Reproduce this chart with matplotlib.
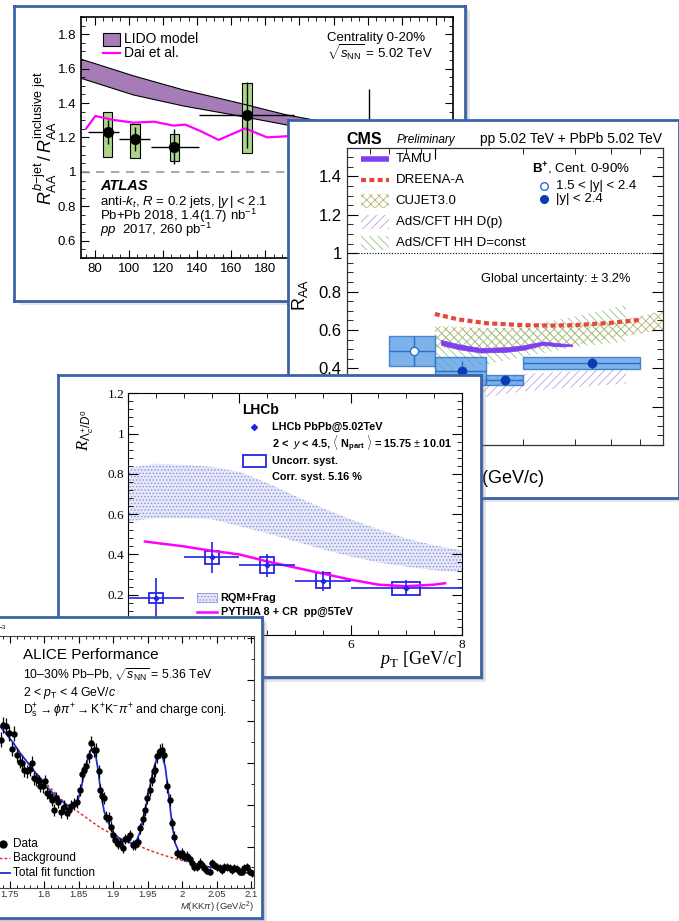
import numpy as np
import matplotlib
matplotlib.use("Agg")
import matplotlib.pyplot as plt
from matplotlib.patches import Rectangle
from matplotlib.ticker import MultipleLocator, FuncFormatter, NullFormatter

plt.rcParams['font.family'] = ['Liberation Sans', 'DejaVu Sans']
plt.rcParams['mathtext.fontset'] = 'custom'
plt.rcParams['mathtext.rm'] = 'Liberation Sans'
plt.rcParams['mathtext.it'] = 'Liberation Sans:italic'
plt.rcParams['mathtext.bf'] = 'Liberation Sans:bold'
plt.rcParams['mathtext.sf'] = 'Liberation Serif'
plt.rcParams['mathtext.cal'] = 'Liberation Serif:italic'
plt.rcParams['hatch.linewidth'] = 0.6

# ---------------- ATLAS: b-jet / inclusive jet RAA ----------------
atlas_pt = [87.6, 103.7, 126.7, 169.3, 241.0]
atlas_r = [1.234, 1.193, 1.147, 1.331, 1.16]
atlas_xlo = [76.0, 94.5, 113.0, 141.0, 197.0]
atlas_xhi = [94.5, 112.7, 141.0, 197.0, 290.0]
atlas_stat = [0.07, 0.07, 0.10, 0.19, 0.32]
atlas_sys_lo = [1.085, 1.079, 1.065, 1.11, 1.02]
atlas_sys_hi = [1.35, 1.28, 1.22, 1.515, 1.29]
lido_x = [72, 102.8, 132.1, 161.4, 192.6, 220, 250, 290]
lido_hi = [1.655, 1.558, 1.476, 1.408, 1.331, 1.28, 1.23, 1.18]
lido_lo = [1.544, 1.447, 1.383, 1.331, 1.273, 1.23, 1.18, 1.13]
dai_x = [75.1, 80.4, 91.1, 102.8, 114.6, 126.3, 133.1, 141.9, 152.6, 168.3, 181.0, 188.8, 210, 240, 270, 290]
dai_y = [1.253, 1.325, 1.302, 1.286, 1.292, 1.269, 1.275, 1.238, 1.186, 1.253, 1.201, 1.205, 1.22, 1.20, 1.19, 1.19]

# ---------------- CMS: B+ RAA ----------------
cms_open_pt = [8.5]
cms_open_r = [0.492]
cms_open_xlo = [7.0]
cms_open_xhi = [10.0]
cms_open_stat = [0.078]
cms_open_sys = [0.078]
cms_pt = [12.4, 17.3, 34.5]
cms_r = [0.386, 0.339, 0.426]
cms_xlo = [10.0, 15.0, 20.0]
cms_xhi = [15.0, 20.0, 50.0]
cms_stat = [0.05, 0.027, 0.031]
cms_sys = [0.073, 0.027, 0.031]
tamu_x = [10.5, 12, 14.3, 17.6, 20, 23.4, 26.7, 29.4]
tamu_hi = [0.548, 0.526, 0.506, 0.510, 0.520, 0.540, 0.530, 0.524]
tamu_lo = [0.522, 0.500, 0.482, 0.486, 0.496, 0.522, 0.514, 0.516]
dreena_x = [10, 12, 15, 20, 25, 30, 40, 50]
dreena_y = [0.683, 0.655, 0.635, 0.625, 0.623, 0.625, 0.637, 0.652]
cujet_x = [10, 15, 20, 30, 40, 50, 60]
cujet_hi = [0.62, 0.61, 0.61, 0.62, 0.645, 0.67, 0.70]
cujet_lo = [0.51, 0.49, 0.49, 0.52, 0.555, 0.58, 0.60]
adsc_x = [10, 15, 20, 30, 45]
adsc_hi = [0.60, 0.60, 0.62, 0.67, 0.73]
adsc_lo = [0.37, 0.42, 0.46, 0.51, 0.54]
adsp_x = [10, 15, 20, 30, 45]
adsp_hi = [0.33, 0.355, 0.37, 0.385, 0.395]
adsp_lo = [0.22, 0.25, 0.28, 0.30, 0.32]

# ---------------- LHCb: Lc/D0 ratio ----------------
lhcb_pt = [2.5, 3.5, 4.5, 5.5, 7.0]
lhcb_r = [0.185, 0.385, 0.346, 0.27, 0.232]
lhcb_xlo = [2, 3, 4, 5, 6]
lhcb_xhi = [3, 4, 5, 6, 8]
lhcb_stat = [0.10, 0.075, 0.056, 0.05, 0.04]
lhcb_sys = [0.025, 0.032, 0.04, 0.038, 0.032]
lhcb_boxw = [0.125, 0.125, 0.125, 0.125, 0.25]
rqm_x = [2, 2.5, 3, 3.5, 4, 4.5, 5, 5.5, 6, 6.5, 7, 7.5, 8]
rqm_hi = [0.83, 0.85, 0.845, 0.835, 0.81, 0.755, 0.69, 0.63, 0.575, 0.525, 0.48, 0.445, 0.42]
rqm_lo = [0.565, 0.58, 0.58, 0.575, 0.54, 0.505, 0.465, 0.425, 0.39, 0.36, 0.34, 0.322, 0.31]
pythia_x = [2.3, 3, 3.5, 4, 4.5, 5, 5.5, 6, 6.5, 7, 7.5, 7.7]
pythia_y = [0.464, 0.44, 0.418, 0.40, 0.365, 0.335, 0.305, 0.275, 0.25, 0.242, 0.25, 0.257]

# ---------------- ALICE: Ds invariant mass ----------------
alice_m = [1.7372, 1.7410, 1.7449, 1.7497, 1.7531, 1.7565, 1.7604, 1.7642, 1.7676, 1.7710,
           1.7748, 1.7787, 1.7821, 1.7845, 1.7884, 1.7918, 1.7942, 1.7980, 1.8014, 1.8038,
           1.8077, 1.8111, 1.8135, 1.8174, 1.8207, 1.8241, 1.8280, 1.8328, 1.8352, 1.8386,
           1.8434, 1.8473, 1.8512, 1.8546, 1.8579, 1.8608, 1.8642, 1.8676, 1.8715, 1.8753,
           1.8787, 1.8811, 1.8835, 1.8869, 1.8898, 1.8932, 1.8966, 1.8995, 1.9029, 1.9063,
           1.9101, 1.9140, 1.9174, 1.9208, 1.9246, 1.9285, 1.9319, 1.9352, 1.9391, 1.9430,
           1.9463, 1.9488, 1.9526, 1.9560, 1.9584, 1.9608, 1.9633, 1.9671, 1.9705, 1.9739,
           1.9777, 1.9816, 1.9850, 1.9884, 1.9922, 1.9961, 1.9995, 2.0029, 2.0067, 2.0106,
           2.0140, 2.0174, 2.0212, 2.0251, 2.0285, 2.0319, 2.0357, 2.0396, 2.0430, 2.0464,
           2.0502, 2.0541, 2.0575, 2.0609, 2.0647, 2.0686, 2.0720, 2.0754, 2.0792, 2.0831,
           2.0865, 2.0899, 2.0937, 2.0976, 2.1009]
alice_n = [117.7, 129.6, 128.8, 123.0, 110.3, 122.5, 105.8, 100.5, 99.7, 93.9,
           92.6, 94.4, 99.2, 87.3, 86.5, 84.7, 81.2, 80.7, 84.7, 75.4,
           73.3, 70.1, 62.2, 71.4, 68.8, 60.8, 64.8, 59.5, 62.2, 65.3,
           66.9, 68.8, 78.0, 90.7, 93.9, 96.6, 104.5, 115.1, 109.8, 109.8,
           92.6, 78.0, 72.8, 71.4, 56.9, 55.6, 48.9, 42.3, 38.4, 35.2,
           36.2, 31.7, 38.9, 39.7, 42.3, 34.4, 34.4, 37.0, 47.6, 54.8,
           62.2, 71.4, 78.0, 86.0, 92.6, 93.9, 104.5, 108.5, 109.8, 105.8,
           80.7, 70.1, 51.6, 41.0, 27.8, 26.5, 28.3, 25.1, 25.7, 23.0,
           19.8, 16.7, 17.2, 20.4, 18.5, 15.9, 14.0, 13.2, 19.8, 18.5,
           17.2, 15.9, 14.6, 17.2, 16.7, 15.9, 14.6, 15.9, 15.1, 13.2,
           13.2, 15.9, 17.2, 13.2, 11.9]
alice_err = [6.0, 6.2, 6.2, 6.0, 5.8, 6.0, 5.6, 5.5, 5.5, 5.4,
             5.4, 5.4, 5.5, 5.2, 5.2, 5.2, 5.1, 5.1, 5.2, 5.0,
             5.0, 4.9, 4.8, 4.9, 4.9, 4.7, 4.8, 4.7, 4.8, 4.8,
             4.8, 4.9, 5.0, 5.3, 5.4, 5.4, 5.5, 5.7, 5.6, 5.6,
             5.3, 5.0, 4.9, 4.9, 4.5, 4.5, 4.3, 4.1, 4.0, 3.9,
             3.9, 3.8, 4.0, 4.0, 4.1, 3.9, 3.9, 4.0, 4.3, 4.5,
             4.7, 4.9, 5.0, 5.2, 5.3, 5.3, 5.5, 5.6, 5.6, 5.5,
             5.0, 4.8, 4.3, 4.1, 3.6, 3.6, 3.6, 3.5, 3.5, 3.4,
             3.3, 3.1, 3.1, 3.3, 3.2, 3.0, 2.9, 2.9, 3.3, 3.2,
             3.1, 3.0, 2.9, 3.1, 3.1, 3.0, 2.9, 3.0, 3.0, 2.9,
             2.9, 3.0, 3.1, 2.9, 2.8]
fit_m = [1.7362, 1.7459, 1.7555, 1.7652, 1.7748, 1.7845, 1.7942, 1.8038, 1.8135, 1.8232,
         1.8328, 1.8386, 1.8434, 1.8483, 1.8531, 1.8579, 1.8628, 1.8676, 1.8715, 1.8753,
         1.8787, 1.8821, 1.8869, 1.8932, 1.9005, 1.9101, 1.9198, 1.9285, 1.9343, 1.9391,
         1.9449, 1.9512, 1.9575, 1.9633, 1.9671, 1.9705, 1.9753, 1.9802, 1.9850, 1.9898,
         1.9971, 2.0067, 2.0164, 2.0357, 2.0551, 2.0744, 2.0937, 2.1034]
fit_n = [128.3, 121.7, 115.1, 107.1, 100.5, 93.4, 87.3, 80.2, 74.9, 70.1,
         66.1, 64.8, 65.3, 68.8, 78.0, 91.3, 101.9, 109.8, 110.3, 103.2,
         91.3, 75.4, 60.8, 51.6, 43.7, 38.9, 37.0, 35.7, 38.4, 45.0,
         58.2, 75.4, 92.6, 103.2, 106.6, 105.8, 96.6, 75.4, 51.6, 35.7,
         26.5, 22.0, 19.8, 17.2, 15.3, 14.0, 12.4, 11.4]
bkg_m = [1.7362, 1.7845, 1.8328, 1.8386, 1.8521, 1.8666, 1.8811, 1.8956, 1.9101, 1.9246,
         1.9391, 1.9536, 1.9681, 1.9826, 1.9971, 2.0115, 2.0357, 2.0744, 2.1034]
bkg_n = [128.3, 93.4, 66.1, 64.8, 59.5, 53.7, 48.1, 43.7, 39.7, 36.2,
         33.1, 29.9, 27.2, 24.6, 22.5, 20.4, 17.2, 14.0, 11.4]

W, H = 679, 921
fig = plt.figure(figsize=(W / 100, H / 100), dpi=100)
fig.patch.set_facecolor('white')
FRAME = '#3b63a6'


def box(x0, y0, x1, y1):
    return [x0 / W, 1 - y1 / H, (x1 - x0) / W, (y1 - y0) / H]


def panel(x0, y0, x1, y1, z):
    # soft shadow + white card with blue border
    for d, a in ((4.5, 0.18), (2.5, 0.28)):
        fig.add_artist(Rectangle(((x0 + d) / W, 1 - (y1 + d) / H), (x1 - x0) / W, (y1 - y0) / H,
                                 transform=fig.transFigure, facecolor='#777777', alpha=a,
                                 lw=0, zorder=z))
    fr = fig.add_axes(box(x0, y0, x1, y1), zorder=z + 0.5)
    fr.set_xticks([])
    fr.set_yticks([])
    fr.set_facecolor('white')
    for s in fr.spines.values():
        s.set_color(FRAME)
        s.set_linewidth(2)


def frac(b, x, y):
    return (x - b[0]) / (b[2] - b[0]), (b[3] - y) / (b[3] - b[1])


def put(ax, b, x, y, s, **kw):
    fx, fy = frac(b, x, y)
    kw.setdefault('va', 'center')
    ax.text(fx, fy, s, transform=ax.transAxes, **kw)


def prect(ax, b, x0, y0, x1, y1, **kw):
    fx0, fy1 = frac(b, x0, y1)
    fx1, fy0 = frac(b, x1, y0)
    ax.add_patch(Rectangle((fx0, fy1), fx1 - fx0, fy0 - fy1, transform=ax.transAxes,
                           clip_on=False, **kw))


def pline(ax, b, x0, x1, y, **kw):
    a0 = frac(b, x0, y)
    a1 = frac(b, x1, y)
    ax.plot([a0[0], a1[0]], [a0[1], a1[1]], transform=ax.transAxes, clip_on=False, **kw)


def pmark(ax, b, x, y, **kw):
    fx, fy = frac(b, x, y)
    ax.plot([fx], [fy], transform=ax.transAxes, clip_on=False, **kw)


gfmt = FuncFormatter(lambda v, _: f'{round(v, 3):g}')

# ======================= ATLAS panel =======================
panel(14, 6, 465, 301, 1)
b1 = (81, 17, 453, 258)
ax1 = fig.add_axes(box(*b1), zorder=2)
ax1.set_xlim(72, 290)
ax1.set_ylim(0.5, 1.9)
ax1.fill_between(lido_x, lido_lo, lido_hi, facecolor='#a57cb5', edgecolor='none')
ax1.plot(lido_x, lido_hi, color='k', lw=0.8)
ax1.plot(lido_x, lido_lo, color='k', lw=0.8)
ax1.axhline(1, color='#9a9a9a', ls=(0, (5, 4)), lw=1.2)
ax1.plot(dai_x, dai_y, color='#ff00ff', lw=1.6)
for x, lo, hi in zip(atlas_pt, atlas_sys_lo, atlas_sys_hi):
    ax1.add_patch(Rectangle((x - 2.8, lo), 5.6, hi - lo, facecolor='#acd48a', edgecolor='k', lw=0.8))
xe = [np.array(atlas_pt) - np.array(atlas_xlo), np.array(atlas_xhi) - np.array(atlas_pt)]
ax1.errorbar(atlas_pt, atlas_r, xerr=xe, yerr=atlas_stat, fmt='o', color='k', ms=7, lw=1, capsize=0)
ax1.xaxis.set_major_locator(MultipleLocator(20))
ax1.xaxis.set_minor_locator(MultipleLocator(5))
ax1.yaxis.set_major_locator(MultipleLocator(0.2))
ax1.yaxis.set_minor_locator(MultipleLocator(0.05))
ax1.yaxis.set_major_formatter(gfmt)
ax1.tick_params(which='both', direction='in', top=True, right=True, labelsize=9.5)
ax1.tick_params(which='major', length=6)
ax1.tick_params(which='minor', length=3)
for s in ax1.spines.values():
    s.set_linewidth(1.2)
prect(ax1, b1, 102.7, 33.3, 120, 45.7, facecolor='#a57cb5', edgecolor='k', lw=0.8)
put(ax1, b1, 124, 39, 'LIDO model', fontsize=10)
pline(ax1, b1, 102.7, 120, 53.3, color='#ff00ff', lw=1.6)
put(ax1, b1, 124, 53, 'Dai et al.', fontsize=10)
put(ax1, b1, 326.7, 37.5, 'Centrality 0-20%', fontsize=9.5)
put(ax1, b1, 326.7, 52.5, r'$\sqrt{s_{\rm NN}}$ = 5.02 TeV', fontsize=9.5)
put(ax1, b1, 100, 185.7, 'ATLAS', fontsize=10.5, fontweight='bold', fontstyle='italic')
put(ax1, b1, 100, 201.7, r'anti-$k_{t}$, $R$ = 0.2 jets, $|y\,|$ < 2.1', fontsize=9.5)
put(ax1, b1, 100, 216, r'Pb+Pb 2018, 1.4(1.7) nb$^{-1}$', fontsize=9.5)
put(ax1, b1, 100, 230, r'$pp$  2017, 260 pb$^{-1}$', fontsize=9.5)
put(ax1, b1, 45, 138, r'$R^{b\mathrm{-jet}}_{\rm AA}\,/\,R^{\rm inclusive\ jet}_{\rm AA}$',
    fontsize=13, rotation=90, ha='center')

# ======================= CMS panel =======================
panel(288, 120, 679, 498, 4)
b2 = (346.7, 147.7, 662.7, 445)
ax2 = fig.add_axes(box(*b2), zorder=5)
ax2.set_xscale('log')
ax2.set_xlim(5, 60)
ax2.set_ylim(0, 1.55)
ax2.fill_between(cujet_x, cujet_lo, cujet_hi, facecolor='none', edgecolor='#b8b474', hatch='xxxx', lw=0)
ax2.fill_between(adsc_x, adsc_lo, adsc_hi, facecolor='none', edgecolor='#93c48a', hatch='\\\\\\\\', lw=0)
ax2.fill_between(adsp_x, adsp_lo, adsp_hi, facecolor='none', edgecolor='#b9a3e6', hatch='////', lw=0)
for xlo, xhi, r, s in zip(cms_open_xlo + cms_xlo, cms_open_xhi + cms_xhi,
                          cms_open_r + cms_r, cms_open_sys + cms_sys):
    ax2.add_patch(Rectangle((xlo, r - s), xhi - xlo, 2 * s, facecolor='#5e9fe6', alpha=0.8,
                            edgecolor='#2a6fc8', lw=1))
ax2.fill_between(tamu_x, tamu_lo, tamu_hi, facecolor='#7f3ff0', edgecolor='#7f3ff0', lw=0.5)
ax2.plot(dreena_x, dreena_y, color='#e8463a', lw=3, ls=(0, (1.2, 0.8)))
ax2.axhline(1, color='k', ls=(0, (1, 1.5)), lw=0.8)
xe = [np.array(cms_pt) - np.array(cms_xlo), np.array(cms_xhi) - np.array(cms_pt)]
ax2.errorbar(cms_pt, cms_r, xerr=xe, yerr=cms_stat, fmt='o', color='#2a6fc8', mfc='#0a3cb4',
             mec='#0a3cb4', ms=6, lw=1, capsize=0)
xe = [np.array(cms_open_pt) - np.array(cms_open_xlo), np.array(cms_open_xhi) - np.array(cms_open_pt)]
ax2.errorbar(cms_open_pt, cms_open_r, xerr=xe, yerr=cms_open_stat, fmt='o', color='#2a6fc8',
             mfc='white', mec='#2a6fc8', ms=6, lw=1, capsize=0)
ax2.yaxis.set_major_locator(MultipleLocator(0.2))
ax2.yaxis.set_minor_locator(MultipleLocator(0.05))
ax2.yaxis.set_major_formatter(gfmt)
ax2.tick_params(which='both', direction='in', top=True, right=True, labelsize=12, labelbottom=False)
ax2.tick_params(which='major', length=8)
ax2.tick_params(which='minor', length=4)
ax2.xaxis.set_minor_formatter(NullFormatter())
for s in ax2.spines.values():
    s.set_linewidth(0.9)
    s.set_color('#333333')
put(ax2, b2, 346.7, 139.3, 'CMS', fontsize=11.5, fontweight='bold')
put(ax2, b2, 396.7, 140, 'Preliminary', fontsize=8.5, fontstyle='italic')
put(ax2, b2, 661.7, 139.3, 'pp 5.02 TeV + PbPb 5.02 TeV', fontsize=10, ha='right')
pline(ax2, b2, 361, 389, 159.3, color='#7f3ff0', lw=4, solid_capstyle='butt')
pline(ax2, b2, 361, 389, 180, color='#e8463a', lw=3, ls=(0, (1.2, 0.8)))
prect(ax2, b2, 361, 194, 389, 208, facecolor='none', edgecolor='#b8b474', hatch='xxxx', lw=0)
prect(ax2, b2, 361, 214.7, 389, 228.7, facecolor='none', edgecolor='#b9a3e6', hatch='////', lw=0)
prect(ax2, b2, 361, 235.7, 389, 249.7, facecolor='none', edgecolor='#93c48a', hatch='\\\\\\\\', lw=0)
for y, s in zip([159.3, 180, 201, 221.7, 242.7],
                ['TAMU', 'DREENA-A', 'CUJET3.0', 'AdS/CFT HH D(p)', 'AdS/CFT HH D=const']):
    put(ax2, b2, 395.7, y, s, fontsize=9.5)
put(ax2, b2, 532.3, 169.3, r'$\mathbf{B^{+}}$, Cent. 0-90%', fontsize=9.5)
pmark(ax2, b2, 544.3, 186, marker='o', ms=5.5, mfc='white', mec='#2a6fc8')
put(ax2, b2, 556, 186, '1.5 < |y| < 2.4', fontsize=9.5)
pmark(ax2, b2, 544.3, 199.3, marker='o', ms=5.5, mfc='#0a3cb4', mec='#0a3cb4')
put(ax2, b2, 556, 199.3, '|y| < 2.4', fontsize=9.5)
put(ax2, b2, 481, 279.3, 'Global uncertainty: \u00b1 3.2%', fontsize=9.2)
put(ax2, b2, 300, 295, r'R$_{\rm AA}$', fontsize=13, rotation=90, ha='center')
put(ax2, b2, 545, 478, r'$p_{\rm T}$ (GeV/c)', fontsize=13, ha='right')

# ======================= LHCb panel =======================
panel(58, 375, 481, 677, 7)
b3 = (128.3, 393.3, 461.7, 635)
ax3 = fig.add_axes(box(*b3), zorder=8)
ax3.set_xlim(2, 8)
ax3.set_ylim(0, 1.2)
ax3.fill_between(rqm_x, rqm_lo, rqm_hi, facecolor='#e6e8f8', edgecolor='#8792de', hatch='.....', lw=0)
ax3.plot(pythia_x, pythia_y, color='#ff00ff', lw=1.8)
LB = '#2424e6'
for x, r, s, w in zip(lhcb_pt, lhcb_r, lhcb_sys, lhcb_boxw):
    ax3.add_patch(Rectangle((x - w, r - s), 2 * w, 2 * s, facecolor='none', edgecolor=LB, lw=1.3))
xe = [np.array(lhcb_pt) - np.array(lhcb_xlo), np.array(lhcb_xhi) - np.array(lhcb_pt)]
ax3.errorbar(lhcb_pt, lhcb_r, xerr=xe, yerr=lhcb_stat, fmt='D', color=LB, ms=2.5, lw=1.2, capsize=0)
ax3.xaxis.set_major_locator(MultipleLocator(2))
ax3.xaxis.set_minor_locator(MultipleLocator(0.5))
ax3.yaxis.set_major_locator(MultipleLocator(0.2))
ax3.yaxis.set_minor_locator(MultipleLocator(0.04))
ax3.yaxis.set_major_formatter(gfmt)
ax3.tick_params(which='both', direction='in', top=True, right=True, labelsize=9.5, pad=3)
ax3.tick_params(which='major', length=7)
ax3.tick_params(which='minor', length=3.5)
for lbl in ax3.get_xticklabels() + ax3.get_yticklabels():
    lbl.set_family('Liberation Serif')
put(ax3, b3, 241.7, 410, 'LHCb', fontsize=10, fontweight='bold')
pmark(ax3, b3, 254, 427.3, marker='D', ms=3, color=LB)
put(ax3, b3, 271.7, 427.3, 'LHCb PbPb@5.02TeV', fontsize=7.8, fontweight='bold')
put(ax3, b3, 271.7, 444,
    r'2 <  $\mathbf{\mathit{y}}$ < 4.5, $\langle$ N$_{\mathbf{part}}$ $\rangle$ = 15.75 $\pm$ 10.01',
    fontsize=7.8, fontweight='bold')
prect(ax3, b3, 242.7, 455, 265.7, 466.7, facecolor='none', edgecolor=LB, lw=1.3)
put(ax3, b3, 271.7, 460.7, 'Uncorr. syst.', fontsize=7.8, fontweight='bold')
put(ax3, b3, 271.7, 476.7, 'Corr. syst. 5.16 %', fontsize=7.8, fontweight='bold')
prect(ax3, b3, 197.3, 593.3, 216.7, 602.3, facecolor='#e6e8f8', edgecolor='#8792de', hatch='.....', lw=0.6)
put(ax3, b3, 220.7, 597.7, 'RQM+Frag', fontsize=7.8, fontweight='bold')
pline(ax3, b3, 197, 217, 611.7, color='#ff00ff', lw=1.8)
put(ax3, b3, 220.7, 611.7, 'PYTHIA 8 + CR  pp@5TeV', fontsize=7.8, fontweight='bold')
put(ax3, b3, 461.7, 660, r'$\mathcal{p}_{\mathsf{T}}\ \mathsf{[GeV/}\mathcal{c}\mathsf{]}$',
    fontsize=13, ha='right')
put(ax3, b3, 86, 430, r'$\mathcal{R}_{\Lambda_{c}^{+}/D^{0}}$', fontsize=12, rotation=90, ha='center')

# ======================= ALICE panel =======================
panel(-10, 617, 262, 918, 10)
b4 = (-24.8, 636, 254, 888.3)
ax4 = fig.add_axes(box(*b4), zorder=11)
ax4.set_xlim(1.7, 2.104)
ax4.set_ylim(0, 200)
ax4.plot(bkg_m, bkg_n, color='#e02424', lw=1, ls=(0, (2, 1.6)))
ax4.plot(fit_m, fit_n, color='#1f2fd0', lw=1.3)
ax4.errorbar(alice_m, alice_n, yerr=alice_err, fmt='o', color='k', ms=3.6, elinewidth=0.9, capsize=0)
ax4.xaxis.set_major_locator(MultipleLocator(0.05))
ax4.xaxis.set_minor_locator(MultipleLocator(0.01))
ax4.xaxis.set_major_formatter(gfmt)
ax4.set_yticks(np.arange(0, 201, 33.1))
ax4.set_yticks(np.arange(0, 201, 16.55), minor=True)
ax4.tick_params(which='both', direction='in', top=True, right=True, labelleft=False,
                labelsize=6.8, labelcolor='#333333', pad=1.5)
ax4.tick_params(which='major', length=5)
ax4.tick_params(which='minor', length=2.5)
for s in ax4.spines.values():
    s.set_linewidth(0.8)
    s.set_color('#444444')
put(ax4, b4, 7, 629, r'$\times10^{-3}$', fontsize=6, ha='right')
put(ax4, b4, 22.7, 655, 'ALICE Performance', fontsize=11)
put(ax4, b4, 22.7, 675, '10\u201330% Pb\u2013Pb, $\\sqrt{s_{\\rm NN}}$ = 5.36 TeV', fontsize=8.8)
put(ax4, b4, 22.7, 692.7, r'2 < $p_{\rm T}$ < 4 GeV/$c$', fontsize=8.8)
put(ax4, b4, 22.7, 711,
    r'$\mathrm{D_{s}^{+}}\rightarrow\phi\pi^{+}\rightarrow\mathrm{K^{+}K^{-}}\pi^{+}$ and charge conj.',
    fontsize=8.8)
pmark(ax4, b4, 3, 844, marker='o', ms=5, color='k')
put(ax4, b4, 13.3, 844, 'Data', fontsize=8.5)
pline(ax4, b4, -12, 10, 858.3, color='#e02424', lw=1, ls=(0, (2, 1.6)))
put(ax4, b4, 13.3, 858.3, 'Background', fontsize=8.5)
pline(ax4, b4, -12, 10, 873.3, color='#1f2fd0', lw=1.3)
put(ax4, b4, 13.3, 873.3, 'Total fit function', fontsize=8.5)
put(ax4, b4, 254, 907, r'$M$(KK$\pi$) (GeV/$c^{2}$)', fontsize=6.8, ha='right', color='#333333')

fig.savefig('out.png', dpi=100)
